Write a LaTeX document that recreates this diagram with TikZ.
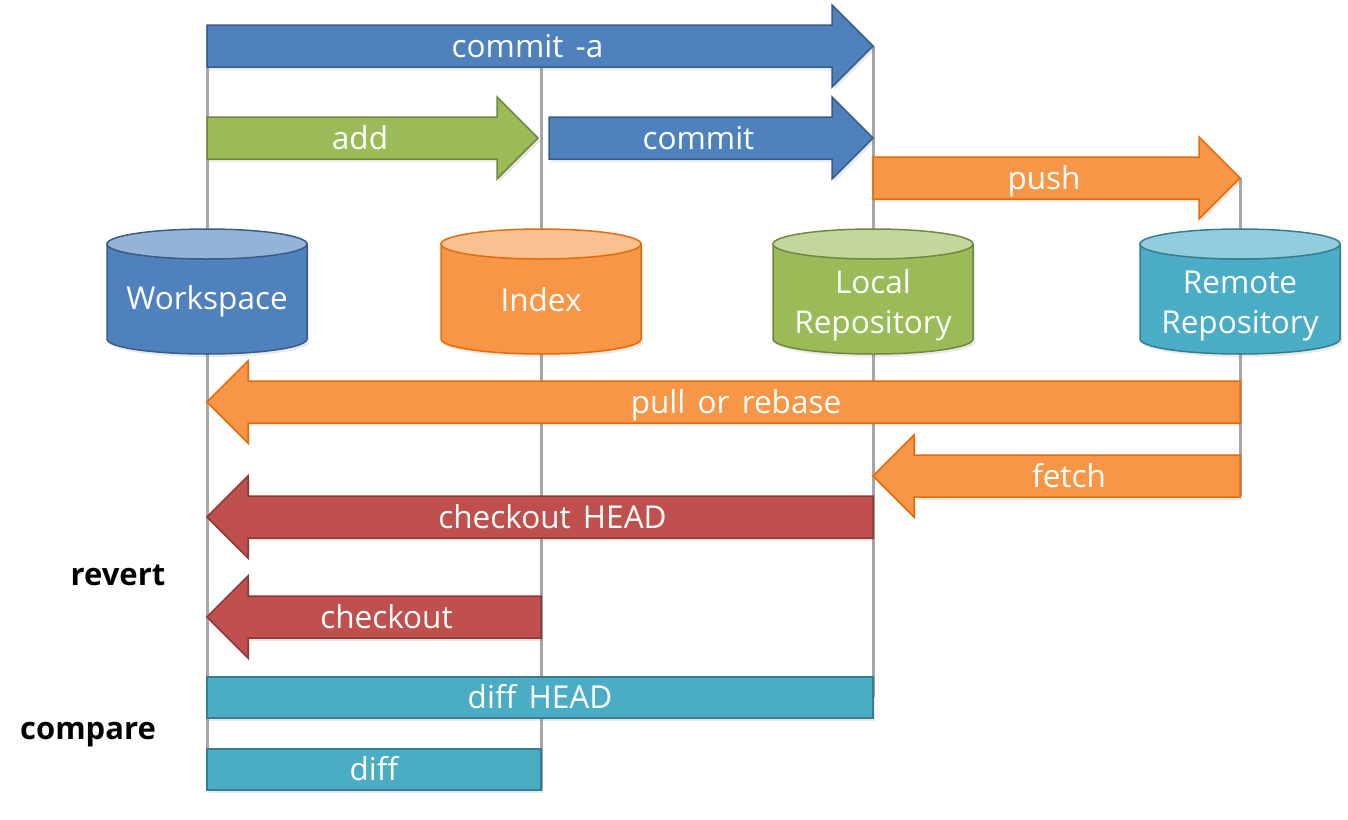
\documentclass[tikz,border=0pt]{standalone}
\usepackage{fontspec}
\setmainfont{Open Sans}[WordSpace=1.5]
\usetikzlibrary{shadows}
\definecolor{cblue}{HTML}{4F81BD}
\definecolor{cbluedk}{HTML}{385D8A}
\definecolor{cbluelt}{HTML}{95B3D7}
\definecolor{corange}{HTML}{F79646}
\definecolor{corangedk}{HTML}{E46C0A}
\definecolor{corangelt}{HTML}{FAC090}
\definecolor{cgreen}{HTML}{9BBB59}
\definecolor{cgreendk}{HTML}{71893F}
\definecolor{cgreenlt}{HTML}{C3D69B}
\definecolor{cteal}{HTML}{4BACC6}
\definecolor{ctealdk}{HTML}{357D91}
\definecolor{ctheallt}{HTML}{93CDDD}
\definecolor{cred}{HTML}{C0504D}
\definecolor{creddk}{HTML}{8C3836}
\definecolor{cgrid}{HTML}{A6A6A6}
\tikzset{
  lbl/.style={text=white,font=\fontsize{31.5}{38}\selectfont,anchor=base,inner sep=0pt},
  side/.style={text=black,font=\fontsize{31}{36}\selectfont\bfseries,anchor=base,inner sep=0pt},
  gridline/.style={draw=cgrid,line width=3pt},
  shp/.style={line width=1.5pt,drop shadow={opacity=0.18,shadow xshift=2pt,shadow yshift=-3pt}},
}
% right-pointing block arrow: name, x start, x tip, y centre, fill, border, label
\newcommand\rarr[7]{%
  \draw[shp,fill=#5,draw=#6] (#2,#4-21) -- (#3-41,#4-21) -- (#3-41,#4-41) -- (#3,#4)
    -- (#3-41,#4+41) -- (#3-41,#4+21) -- (#2,#4+21) -- cycle;
  \node[lbl] (#1) at ({(#2+#3-25)/2},#4+11) {#7};}
% left-pointing block arrow: name, x tip, x end, y centre, fill, border, label
\newcommand\larr[7]{%
  \draw[shp,fill=#5,draw=#6] (#3,#4-21) -- (#2+41,#4-21) -- (#2+41,#4-41) -- (#2,#4)
    -- (#2+41,#4+41) -- (#2+41,#4+21) -- (#3,#4+21) -- cycle;
  \node[lbl] (#1) at ({(#2+25+#3)/2},#4+11) {#7};}
% cylinder: centre x, fill, top fill, border
\newcommand\cyl[4]{%
  \draw[shp,fill=#2,draw=#4] (#1-100,244) -- (#1-100,339)
    arc[start angle=180,end angle=0,x radius=100,y radius=15] -- (#1+100,244) -- cycle;
  \draw[line width=1.5pt,fill=#3,draw=#4] (#1,244) ellipse[x radius=100,y radius=15];}
\begin{document}
\begin{tikzpicture}[x=1pt,y=-1pt]
\useasboundingbox (0,0) rectangle (1348,819);
% reference lines
\coordinate (w1) at (207,25);  \coordinate (w2) at (207,790);
\coordinate (i1) at (541,67);  \coordinate (i2) at (541,790);
\coordinate (l1) at (873,46);  \coordinate (l2) at (873,697);
\coordinate (r1) at (1240,178); \coordinate (r2) at (1240,496);
\draw[gridline] (w1) -- (w2);
\draw[gridline] (i1) -- (i2);
\draw[gridline] (l1) -- (l2);
\draw[gridline] (r1) -- (r2);
% top arrows
\rarr{commita}{207}{873}{46}{cblue}{cbluedk}{commit -a}
\rarr{add}{207}{538}{138}{cgreen}{cgreendk}{add}
\rarr{commit}{549}{873}{138}{cblue}{cbluedk}{commit}
\rarr{push}{873}{1240}{178}{corange}{corangedk}{push}
% stores
\cyl{207}{cblue}{cbluelt}{cbluedk}
\cyl{541}{corange}{corangelt}{corangedk}
\cyl{873}{cgreen}{cgreenlt}{cgreendk}
\cyl{1240}{cteal}{ctheallt}{ctealdk}
\node[lbl] (workspace) at (207,309) {Workspace};
\node[lbl] (index) at (541,311) {Index};
\node[lbl] (local) at (873,293) {Local};
\node[lbl] (localrepo) at (873,333) {Repository};
\node[lbl] (remote) at (1240,293) {Remote};
\node[lbl] (remoterepo) at (1240,333) {Repository};
% back arrows
\larr{pull}{207}{1240}{402}{corange}{corangedk}{pull or rebase}
\larr{fetch}{873}{1240}{476}{corange}{corangedk}{fetch}
\larr{checkouthead}{207}{873}{517}{cred}{creddk}{checkout HEAD}
\larr{checkout}{207}{541}{617}{cred}{creddk}{checkout}
% compare bars
\draw[shp,fill=cteal,draw=ctealdk] (207,677) rectangle (873,718);
\node[lbl] (diffhead) at (540,708) {diff HEAD};
\draw[shp,fill=cteal,draw=ctealdk] (207,749) rectangle (541,790);
\node[lbl] (diff) at (374,780) {diff};
% side labels
\node[side] (revert) at (118,585) {revert};
\node[side] (compare) at (88,739) {compare};
\end{tikzpicture}
\end{document}
